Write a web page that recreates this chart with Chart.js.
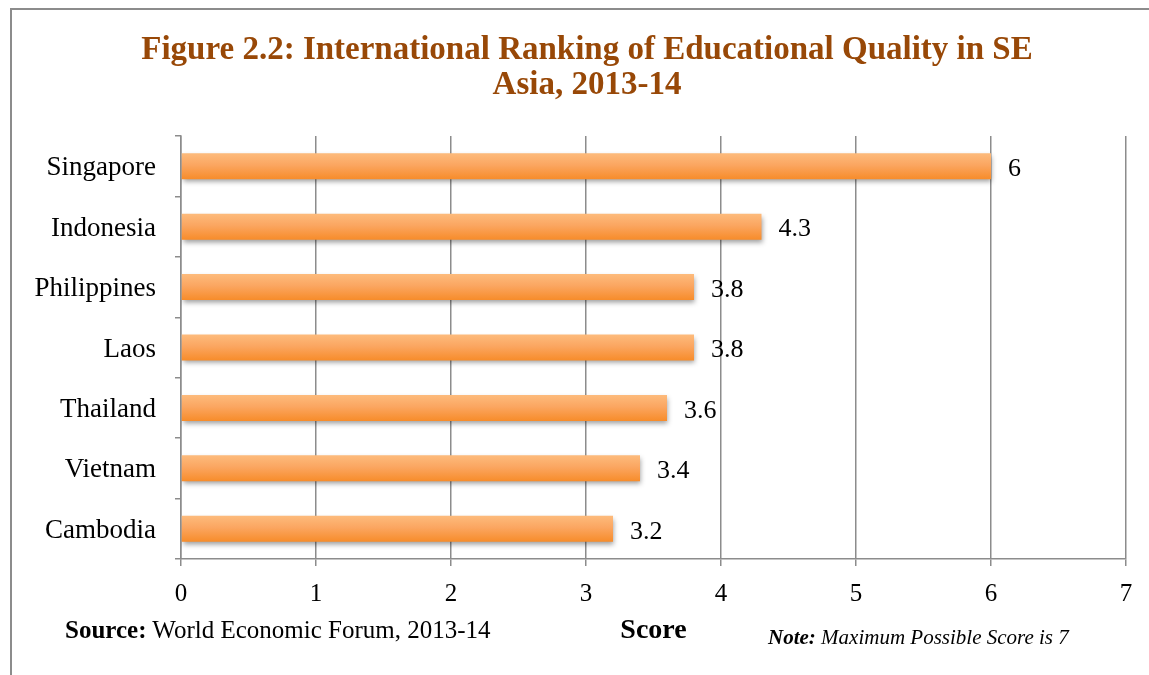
<!DOCTYPE html>
<html>
<head>
<meta charset="utf-8">
<script src="https://cdn.jsdelivr.net/npm/chart.js@4"></script>
<style>
  body { margin: 0; background: #fff; overflow: hidden; }
  #wrap { position: relative; width: 1149px; height: 675px; }
  #frame { position: absolute; left: 10px; top: 8px; width: 1300px; height: 800px;
           border-top: 2px solid #8c8c8c; border-left: 2px solid #8c8c8c; }
  canvas { position: absolute; left: 0; top: 0; }
  .txt { position: absolute; font-family: "Liberation Serif", serif; color: #000; white-space: nowrap; line-height: 1; }
  #title { left: 0; top: 31px; width: 1174px; text-align: center; font-size: 33px; line-height: 35px;
           font-weight: bold; color: #984807; }
  #source { left: 65px; top: 617px; font-size: 25px; }
  #note { left: 768px; top: 627px; font-size: 21px; font-style: italic; }
</style>
</head>
<body>
<div id="wrap">
  <div id="frame"></div>
  <canvas id="chartQuality" width="1149" height="675"></canvas>
  <div class="txt" id="title"></div>
  <div class="txt" id="source"><b>Source:</b> World Economic Forum, 2013-14</div>
  <div class="txt" id="note"><b>Note:</b> Maximum Possible Score is 7</div>
</div>
<script>
const countries = ['Singapore', 'Indonesia', 'Philippines', 'Laos', 'Thailand', 'Vietnam', 'Cambodia']
const scores = [6, 4.3, 3.8, 3.8, 3.6, 3.4, 3.2]
const scoreMin = 0
const scoreMax = 7
const titleLines = ['Figure 2.2: International Ranking of Educational Quality in SE', 'Asia, 2013-14']
const axisTitle = 'Score'

const serif = '"Liberation Serif", "Times New Roman", serif'
const gridGray = '#8c8c8c'
const barPct = 0.43

document.getElementById('title').innerHTML = titleLines.join('<br>');

// orange bars with a light top and a soft drop shadow, values printed at the end
const barLook = {
    id: 'barLook',
    beforeDatasetsDraw(chart) {
        const ctx = chart.ctx;
        ctx.save();
        ctx.shadowColor = 'rgba(0,0,0,0.38)';
        ctx.shadowBlur = 5;
        ctx.shadowOffsetX = 1;
        ctx.shadowOffsetY = 3;
    },
    afterDatasetsDraw(chart) {
        const ctx = chart.ctx;
        ctx.restore();
        ctx.save();
        ctx.font = '26px ' + serif;
        ctx.fillStyle = '#000';
        ctx.textAlign = 'left';
        ctx.textBaseline = 'middle';
        chart.getDatasetMeta(0).data.forEach(function(bar, i) {
            ctx.fillText(String(scores[i]), bar.x + 17, bar.y + 3);
        });
        ctx.restore();
    }
};

function barFill(context) {
    const chart = context.chart;
    const yScale = chart.scales.y;
    if (!chart.chartArea || !yScale) return '#f9a35a';
    const c = yScale.getPixelForValue(context.dataIndex);
    const half = (yScale.height / countries.length) * barPct / 2;
    const g = chart.ctx.createLinearGradient(0, c - half, 0, c + half);
    g.addColorStop(0, '#fdbb7c');
    g.addColorStop(0.45, '#fba661');
    g.addColorStop(1, '#f78c2a');
    return g;
}

var ctxQuality = document.getElementById('chartQuality').getContext('2d');
var chartQuality = new Chart(ctxQuality, {
    type: 'bar',
    data: {
        labels: countries,
        datasets: [{
            data: scores,
            backgroundColor: barFill,
            borderWidth: 0,
            barPercentage: barPct,
            categoryPercentage: 1
        }]
    },
    options: {
        indexAxis: 'y',
        responsive: false,
        animation: false,
        layout: { padding: { top: 136, left: 20, right: 23, bottom: 0 } },
        plugins: {
            legend: { display: false },
            tooltip: { enabled: false },
            title: { display: false }
        },
        scales: {
            x: {
                min: scoreMin,
                max: scoreMax,
                afterFit(scale) { scale.height = 116; },
                ticks: {
                    stepSize: 1,
                    color: '#000',
                    padding: 13,
                    font: { family: serif, size: 25 }
                },
                grid: { color: gridGray, lineWidth: 1.5, tickLength: 7 },
                border: { color: gridGray, width: 1.5 },
                title: {
                    display: true,
                    text: axisTitle,
                    color: '#000',
                    font: { family: serif, size: 28, weight: 'bold' },
                    padding: { top: 0, bottom: 27 }
                }
            },
            y: {
                afterFit(scale) { scale.width = 161; },
                ticks: {
                    color: '#000',
                    padding: 19,
                    labelOffset: 2,
                    font: { family: serif, size: 27 }
                },
                grid: { drawOnChartArea: false, color: gridGray, lineWidth: 1.5, tickLength: 6 },
                border: { color: gridGray, width: 1.5 }
            }
        }
    },
    plugins: [barLook]
});
</script>
</body>
</html>
